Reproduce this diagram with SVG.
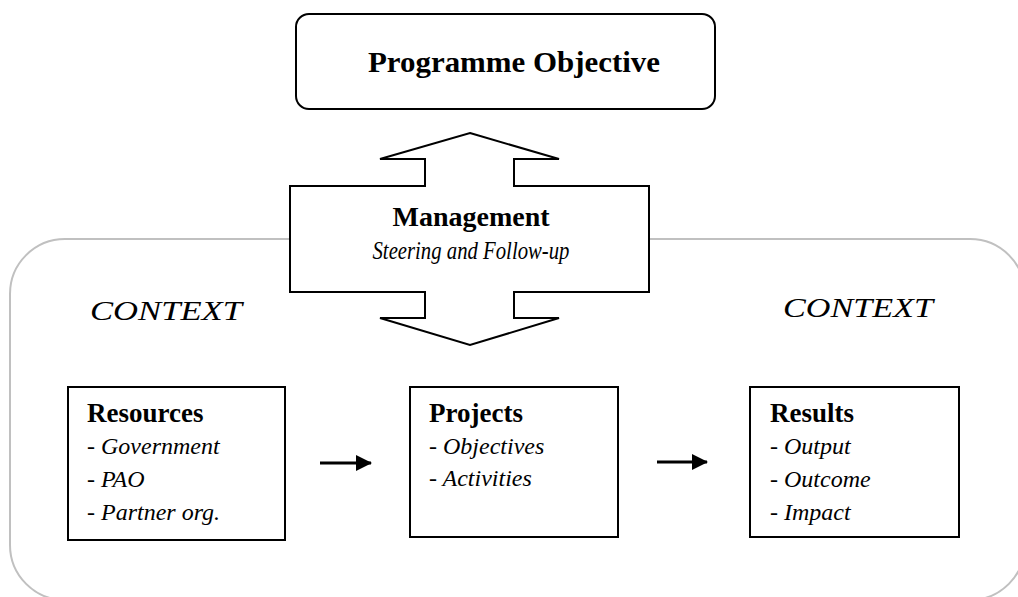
<svg xmlns="http://www.w3.org/2000/svg" width="1018" height="597" viewBox="0 0 1018 597">
<style>
  text { font-family: "Liberation Serif", "DejaVu Serif", serif; fill: #000; }
  .b { font-weight: bold; }
  .i { font-style: italic; }
  .box { fill: #fff; stroke: #000; stroke-width: 2; }
  .ctx { fill: none; stroke: #c0c0c0; stroke-width: 2; }
  .conn { stroke: #000; stroke-width: 3; fill: none; }
</style>
<defs>
  <marker id="ah" viewBox="0 0 16 16" refX="15" refY="8" markerWidth="16" markerHeight="16" markerUnits="userSpaceOnUse" orient="auto">
    <path d="M0,0 L16,8 L0,16 Z" fill="#000"/>
  </marker>
</defs>
<rect width="1018" height="597" fill="#fff"/>
<g id="context">
  <rect class="ctx" x="10" y="239" width="1015" height="361" rx="55" ry="55"/>
  <text class="i" x="90" y="320" font-size="27" textLength="152" lengthAdjust="spacingAndGlyphs">CONTEXT</text>
  <text class="i" x="783" y="317" font-size="27" textLength="150" lengthAdjust="spacingAndGlyphs">CONTEXT</text>
</g>
<g id="programme-objective">
  <rect class="box" x="296" y="14" width="419" height="95" rx="13" ry="13"/>
  <text class="b" x="368" y="72" font-size="30" textLength="292" lengthAdjust="spacingAndGlyphs">Programme Objective</text>
</g>
<g id="management">
  <polygon class="box" points="470,133 559,159 514,159 514,186 649,186 649,292 514,292 514,318 559,318 470,345 380,318 425,318 425,292 290,292 290,186 425,186 425,159 380,159"/>
  <text class="b" x="471" y="226" font-size="28" text-anchor="middle">Management</text>
  <text class="i" x="471" y="259" font-size="25" text-anchor="middle" textLength="197" lengthAdjust="spacingAndGlyphs">Steering and Follow-up</text>
</g>
<g id="resources">
  <rect class="box" x="68" y="387" width="217" height="153"/>
  <text class="b" x="87" y="422" font-size="27">Resources</text>
  <text class="i" x="87" y="454" font-size="24">- Government</text>
  <text class="i" x="87" y="487" font-size="24">- PAO</text>
  <text class="i" x="87" y="520" font-size="24">- Partner org.</text>
</g>
<g id="projects">
  <rect class="box" x="410" y="387" width="208" height="150"/>
  <text class="b" x="429" y="422" font-size="27">Projects</text>
  <text class="i" x="429" y="454" font-size="24">- Objectives</text>
  <text class="i" x="429" y="486" font-size="24">- Activities</text>
</g>
<g id="results">
  <rect class="box" x="750" y="387" width="209" height="150"/>
  <text class="b" x="770" y="422" font-size="27">Results</text>
  <text class="i" x="770" y="454" font-size="24">- Output</text>
  <text class="i" x="770" y="487" font-size="24">- Outcome</text>
  <text class="i" x="770" y="520" font-size="24">- Impact</text>
</g>
<g id="connectors">
  <line class="conn" x1="320" y1="463" x2="371" y2="463" marker-end="url(#ah)"/>
  <line class="conn" x1="657" y1="462" x2="707" y2="462" marker-end="url(#ah)"/>
</g>
</svg>
